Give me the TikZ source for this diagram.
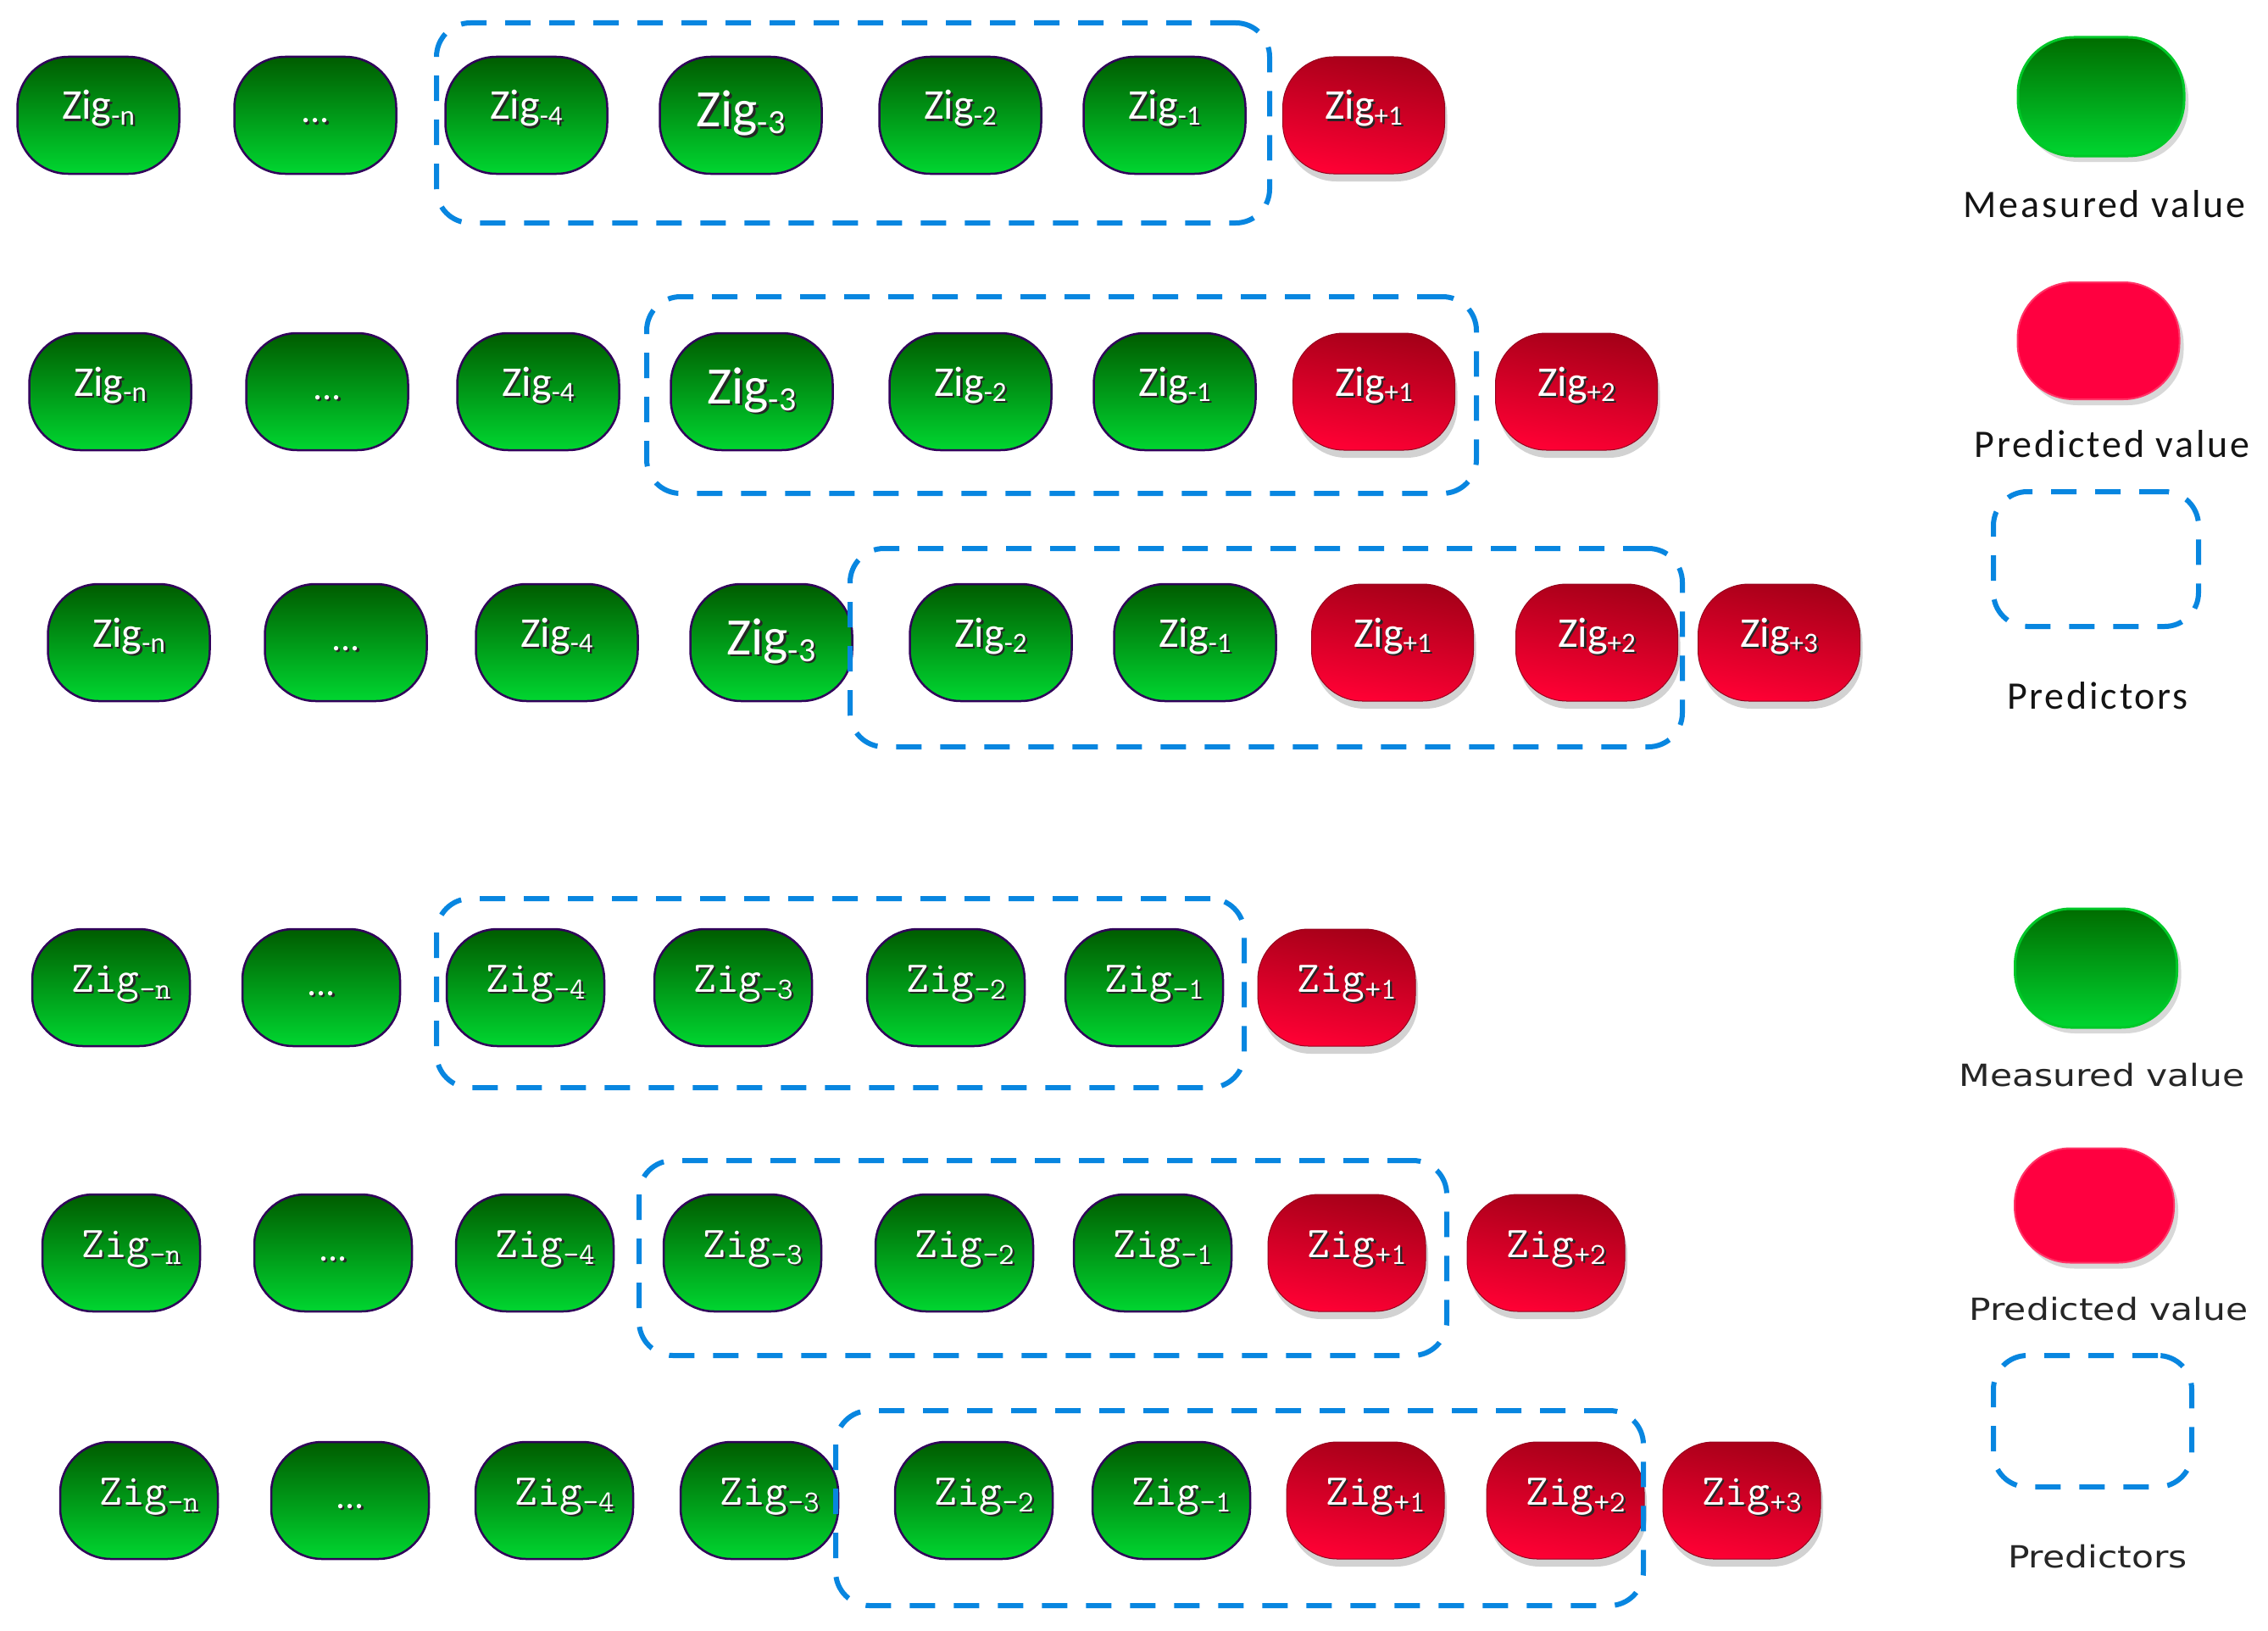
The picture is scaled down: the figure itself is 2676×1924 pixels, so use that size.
\documentclass[tikz,border=0pt]{standalone}
\usepackage{fontspec}
\usetikzlibrary{shadows}
\newfontfamily\zfont{Carlito}
\newfontfamily\cfont{Latin Modern Mono}
\newfontfamily\lfont[FakeStretch=1.18]{DejaVu Sans}
\newfontfamily\ltfont[LetterSpace=6]{Carlito}
\definecolor{gtop}{RGB}{0,92,0}
\definecolor{gbot}{RGB}{0,214,48}
\definecolor{gborder}{RGB}{48,0,90}
\definecolor{rtop}{RGB}{165,0,24}
\definecolor{rbot}{RGB}{255,0,52}
\definecolor{rborder}{RGB}{150,0,30}
\definecolor{pblue}{RGB}{8,134,224}
\definecolor{lred}{RGB}{255,0,64}
\definecolor{lgreen}{RGB}{0,200,40}
\newcommand\shd[1]{\rlap{\kern2.5pt\raisebox{-2.5pt}{\textcolor{black!85}{#1}}}#1}
\newcommand\zs[1]{\shd{Zig}\raisebox{-6pt}{\fontsize{33}{33}\selectfont\shd{#1}}}
\newcommand\zb[1]{\raisebox{-9pt}{\fontsize{62}{62}\selectfont\shd{Zig}\raisebox{-8pt}{\fontsize{40}{40}\selectfont\shd{#1}}}}
\newcommand\zc[1]{\hspace*{24pt}\shd{Zig}\raisebox{-8pt}{\fontsize{36}{36}\selectfont\shd{#1}}}
\newcommand\dts{\raisebox{-4pt}{\zfont\fontsize{44}{44}\selectfont\shd{...}}}
\tikzset{
  zbase/.style={minimum width=191pt, minimum height=138pt, rounded corners=60pt,
    text=white, text height=30pt, text depth=20pt, inner sep=0pt},
  gn/.style={zbase, draw=gborder, line width=2.5pt, top color=gtop, bottom color=gbot},
  rd/.style={zbase, draw=rborder, line width=1pt, top color=rtop, bottom color=rbot,
    shading angle=-10, drop shadow={shadow xshift=3pt, shadow yshift=-9pt, opacity=0.35}},
  tf/.style={font=\zfont\fontsize{50}{56}\selectfont},
  cf/.style={font=\cfont\fontsize{52}{56}\selectfont, minimum width=186pt},
  pbox/.style={draw=pblue, line width=6pt, dash pattern=on 30pt off 22pt,
    rounded corners=40pt, inner sep=0pt},
  legt/.style={font=\ltfont\fontsize{46}{50}\selectfont, text=black!92, inner sep=0pt},
  leg/.style={font=\lfont\fontsize{36}{40}\selectfont, text=black!85, inner sep=0pt},
  lgpill/.style={minimum width=196pt, minimum height=140pt, rounded corners=66pt,
    draw=lgreen, line width=3pt, top color=gtop!90!green, bottom color=gbot,
    drop shadow={shadow xshift=5pt, shadow yshift=-7pt, opacity=0.3}},
  lrpill/.style={minimum width=191pt, minimum height=138pt, rounded corners=66pt,
    draw=lred!80!white, line width=2pt, fill=lred,
    drop shadow={shadow xshift=5pt, shadow yshift=-7pt, opacity=0.3}},
}
\begin{document}
\begin{tikzpicture}[x=1pt, y=-1pt]
\useasboundingbox (0,0) rectangle (2676,1924);
\fill[white] (0,0) rectangle (2676,1924);
% ---------- Row 1
\node[gn,tf] (r1n)  at (116,136)  {\zs{-n}};
\node[gn,tf] (r1d)  at (372,136)  {\dts};
\node[gn,tf] (r1m4) at (621,136)  {\zs{-4}};
\node[gn,tf] (r1m3) at (874,136)  {\zb{-3}};
\node[gn,tf] (r1m2) at (1133,136) {\zs{-2}};
\node[gn,tf] (r1m1) at (1374,136) {\zs{-1}};
\node[rd,tf] (r1p1) at (1609,136) {\zs{+1}};
% ---------- Row 2
\node[gn,tf] (r2n)  at (130,462)  {\zs{-n}};
\node[gn,tf] (r2d)  at (386,462)  {\dts};
\node[gn,tf] (r2m4) at (635,462)  {\zs{-4}};
\node[gn,tf] (r2m3) at (887,462)  {\zb{-3}};
\node[gn,tf] (r2m2) at (1145,462) {\zs{-2}};
\node[gn,tf] (r2m1) at (1386,462) {\zs{-1}};
\node[rd,tf] (r2p1) at (1621,462) {\zs{+1}};
\node[rd,tf] (r2p2) at (1860,462) {\zs{+2}};
% ---------- Row 3
\node[gn,tf] (r3n)  at (152,758)  {\zs{-n}};
\node[gn,tf] (r3d)  at (408,758)  {\dts};
\node[gn,tf] (r3m4) at (657,758)  {\zs{-4}};
\node[gn,tf] (r3m3) at (910,758)  {\zb{-3}};
\node[gn,tf] (r3m2) at (1169,758) {\zs{-2}};
\node[gn,tf] (r3m1) at (1410,758) {\zs{-1}};
\node[rd,tf] (r3p1) at (1643,758) {\zs{+1}};
\node[rd,tf] (r3p2) at (1884,758) {\zs{+2}};
\node[rd,tf] (r3p3) at (2099,758) {\zs{+3}};
% ---------- Row 4
\node[gn,cf] (r4n)  at (131,1165)  {\zc{-n}};
\node[gn,cf] (r4d)  at (379,1165)  {\dts};
\node[gn,cf] (r4m4) at (620,1165)  {\zc{-4}};
\node[gn,cf] (r4m3) at (865,1165)  {\zc{-3}};
\node[gn,cf] (r4m2) at (1116,1165) {\zc{-2}};
\node[gn,cf] (r4m1) at (1350,1165) {\zc{-1}};
\node[rd,cf] (r4p1) at (1577,1165) {\zc{+1}};
% ---------- Row 5
\node[gn,cf] (r5n)  at (143,1478)  {\zc{-n}};
\node[gn,cf] (r5d)  at (393,1478)  {\dts};
\node[gn,cf] (r5m4) at (631,1478)  {\zc{-4}};
\node[gn,cf] (r5m3) at (876,1478)  {\zc{-3}};
\node[gn,cf] (r5m2) at (1126,1478) {\zc{-2}};
\node[gn,cf] (r5m1) at (1360,1478) {\zc{-1}};
\node[rd,cf] (r5p1) at (1589,1478) {\zc{+1}};
\node[rd,cf] (r5p2) at (1824,1478) {\zc{+2}};
% ---------- Row 6
\node[gn,cf] (r6n)  at (164,1770)  {\zc{-n}};
\node[gn,cf] (r6d)  at (413,1770)  {\dts};
\node[gn,cf] (r6m4) at (654,1770)  {\zc{-4}};
\node[gn,cf] (r6m3) at (896,1770)  {\zc{-3}};
\node[gn,cf] (r6m2) at (1149,1770) {\zc{-2}};
\node[gn,cf] (r6m1) at (1382,1770) {\zc{-1}};
\node[rd,cf] (r6p1) at (1611,1770) {\zc{+1}};
\node[rd,cf] (r6p2) at (1847,1770) {\zc{+2}};
\node[rd,cf] (r6p3) at (2055,1770) {\zc{+3}};
% ---------- Predictor boxes
\node[pbox, minimum width=983pt, minimum height=236pt] (b1) at (1006.5,145) {};
\node[pbox, minimum width=979pt, minimum height=232pt] (b2) at (1252.5,466) {};
\node[pbox, minimum width=982pt, minimum height=234pt] (b3) at (1494,764) {};
\node[pbox, minimum width=953pt, minimum height=223pt] (b4) at (991.5,1171.5) {};
\node[pbox, minimum width=953pt, minimum height=230pt] (b5) at (1230.5,1484) {};
\node[pbox, minimum width=953pt, minimum height=230pt] (b6) at (1462.5,1779) {};
% ---------- Legend (top)
\node[lgpill] (l1g) at (2479,114) {};
\node[legt] (t1m) at (2483,241) {Measured value};
\node[lrpill] (l1r) at (2476,402) {};
\node[legt] (t1p) at (2492,524) {Predicted value};
\node[pbox, minimum width=242pt, minimum height=159pt] (l1b) at (2473,659.5) {};
\node[legt] (t1q) at (2475,821) {Predictors};
% ---------- Legend (bottom)
\node[lgpill, minimum width=191pt] (l2g) at (2473,1142) {};
\node[leg] (t2m) at (2480,1268) {Measured value};
\node[lrpill, minimum width=188pt, minimum height=135pt] (l2r) at (2471,1422) {};
\node[leg] (t2p) at (2488,1544) {Predicted value};
\node[pbox, minimum width=234pt, minimum height=155pt] (l2b) at (2469,1676.5) {};
\node[leg] (t2q) at (2475,1836) {Predictors};
\end{tikzpicture}
\end{document}
